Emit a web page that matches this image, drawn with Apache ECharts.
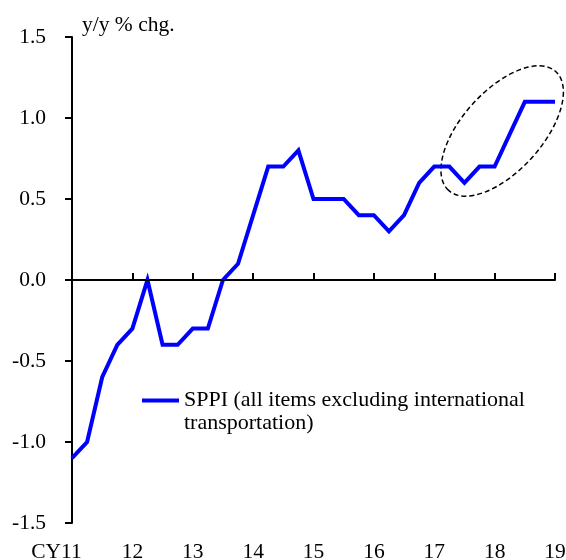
<!DOCTYPE html>
<html><head><meta charset="utf-8">
<script src="https://cdn.jsdelivr.net/npm/echarts@6/dist/echarts.min.js"></script>
<style>html,body{margin:0;padding:0;background:#fff}#c{width:566px;height:560px}</style>
</head><body><div id="c"></div>
<script>
const quarters = ['11Q1','11Q2','11Q3','11Q4','12Q1','12Q2','12Q3','12Q4','13Q1','13Q2','13Q3','13Q4',
  '14Q1','14Q2','14Q3','14Q4','15Q1','15Q2','15Q3','15Q4','16Q1','16Q2','16Q3','16Q4',
  '17Q1','17Q2','17Q3','17Q4','18Q1','18Q2','18Q3','18Q4','19Q1'];
const sppi = [-1.1,-1.0,-0.6,-0.4, -0.3,0.0,-0.4,-0.4, -0.3,-0.3,0.0,0.1, 0.4,0.7,0.7,0.8,
  0.5,0.5,0.5,0.4, 0.4,0.3,0.4,0.6, 0.7,0.7,0.6,0.7, 0.7,0.9,1.1,1.1, 1.1];
const yearLabels = ['CY11','12','13','14','15','16','17','18','19'];
const yTicks = [-1.5,-1.0,-0.5,0.0,0.5,1.0,1.5];
const seriesName = 'SPPI (all items excluding international\ntransportation)';
const yUnit = 'y/y % chg.';

const FONT = "'Liberation Serif','Times New Roman',serif";
const FS = 21.5;
const chart = echarts.init(document.getElementById('c'), null, {renderer:'canvas'});
const isYear = (i) => i % 4 === 0;

chart.setOption({
  animation: false,
  backgroundColor: '#fff',
  grid: {left: 72, right: 11, top: 37, bottom: 37, containLabel: false, outerBoundsMode: 'none'},
  legend: {
    show: true, left: 142, top: 366, padding: 0, selectedMode: false,
    itemWidth: 37, itemHeight: 4, icon: 'rect', itemGap: 0,
    itemStyle: {color: '#0000ff', borderWidth: 0},
    data: [seriesName],
    formatter: (n) => '\n' + n,
    textStyle: {fontFamily: FONT, fontSize: 22, color: '#000', lineHeight: 23}
  },
  xAxis: {
    type: 'category', boundaryGap: false, data: quarters,
    axisLine: {show: true, lineStyle: {color: '#000', width: 2}},
    axisTick: {show: true, inside: true, length: 7, interval: (i) => isYear(i), lineStyle: {color: '#000', width: 2}},
    axisLabel: {
      interval: (i) => isYear(i), margin: 18, color: '#000', fontFamily: FONT, fontSize: FS,
      formatter: (v, i) => {
        const lab = yearLabels[i / 4];
        return i === 0 ? '{f|' + lab + '}' : lab;
      },
      rich: {f: {fontFamily: FONT, fontSize: FS, color: '#000', padding: [0, 31, 0, 0]}}
    },
    splitLine: {show: false}
  },
  yAxis: {
    type: 'value', min: yTicks[0], max: yTicks[yTicks.length-1], interval: 0.5,
    name: yUnit, nameLocation: 'end', nameGap: 1,
    nameTextStyle: {fontFamily: FONT, fontSize: FS, color: '#000', align: 'left', verticalAlign: 'bottom', padding: [0,0,0,10]},
    axisLine: {show: true, lineStyle: {color: '#000', width: 2}},
    axisTick: {show: true, inside: false, length: 7, lineStyle: {color: '#000', width: 2}},
    axisLabel: {margin: 26, color: '#000', fontFamily: FONT, fontSize: FS, formatter: (v) => v.toFixed(1)},
    splitLine: {show: false}
  },
  series: [{
    name: seriesName, type: 'line', data: sppi, symbol: 'none', smooth: false,
    lineStyle: {color: '#0000ff', width: 4, join: 'miter'},
    itemStyle: {color: '#0000ff'},
    markLine: {
      silent: true, symbol: 'none', animation: false,
      label: {show: false},
      lineStyle: {color: '#000', width: 1.2, type: 'solid'},
      emphasis: {disabled: true},
      data: [{yAxis: 0}]
    }
  }]
});

// annotation ellipse centred between 18Q1 and 18Q2, near 0.92
const p28 = chart.convertToPixel({gridIndex: 0}, [28, 0.92]);
const p29 = chart.convertToPixel({gridIndex: 0}, [29, 0.92]);
const cx = p28[0] + 0.5 * (p29[0] - p28[0]);
chart.setOption({
  graphic: [{
    type: 'ellipse', x: cx, y: p28[1], rotation: 48 * Math.PI / 180,
    shape: {cx: 0, cy: 0, rx: 80, ry: 40},
    style: {fill: 'none', stroke: '#000', lineWidth: 1.5, lineDash: [5, 3]},
    silent: true
  }]
});
</script></body></html>
